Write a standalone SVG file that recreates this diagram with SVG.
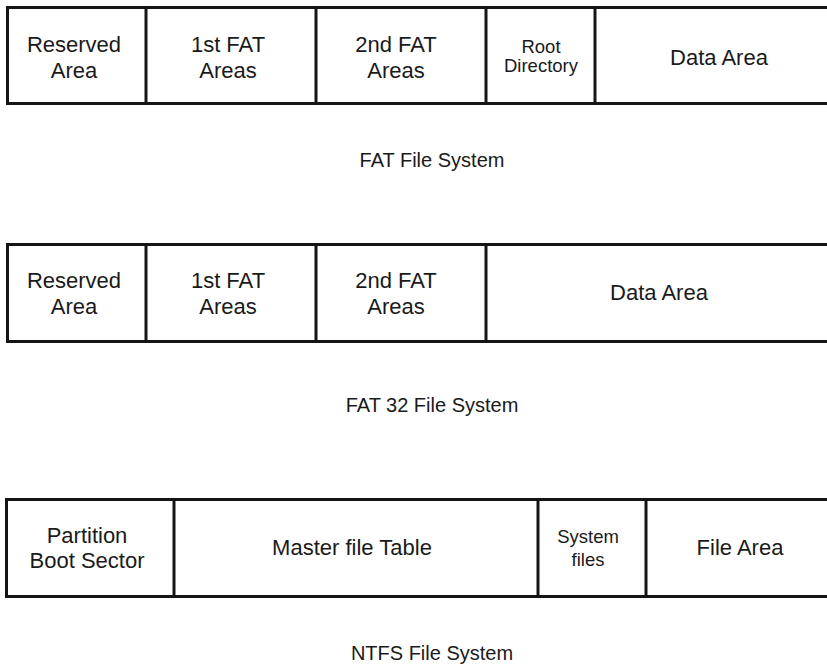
<svg xmlns="http://www.w3.org/2000/svg" width="827" height="666" viewBox="0 0 827 666">
<style>
.box{fill:#fff;stroke:#151515;stroke-width:3}
.div{stroke:#151515;stroke-width:3}
text{font-family:"Liberation Sans",Arial,Helvetica,sans-serif;fill:#1a1a1a;text-anchor:middle}
.t{font-size:22px}
.s{font-size:18.5px}
.c{font-size:20px}
</style>
<rect width="827" height="666" fill="#fff"/>
<g id="fat">
<rect class="box" x="7.5" y="7.5" width="830" height="96"/>
<g id="fat-reserved"><line class="div" x1="146" y1="7.5" x2="146" y2="103.5"/><text class="t" x="74" y="52">Reserved</text><text class="t" x="74" y="78">Area</text></g>
<g id="fat-1st"><line class="div" x1="316" y1="7.5" x2="316" y2="103.5"/><text class="t" x="228" y="52">1st FAT</text><text class="t" x="228" y="78">Areas</text></g>
<g id="fat-2nd"><line class="div" x1="486" y1="7.5" x2="486" y2="103.5"/><text class="t" x="396" y="52">2nd FAT</text><text class="t" x="396" y="78">Areas</text></g>
<g id="fat-root"><line class="div" x1="595" y1="7.5" x2="595" y2="103.5"/><text class="s" x="541" y="53">Root</text><text class="s" x="541" y="72">Directory</text></g>
<g id="fat-data"><text class="t" x="719" y="65">Data Area</text></g>
<text class="c" x="432" y="167">FAT File System</text>
</g>
<g id="fat32">
<rect class="box" x="7.5" y="244.5" width="830" height="97"/>
<g id="fat32-reserved"><line class="div" x1="146" y1="244.5" x2="146" y2="341.5"/><text class="t" x="74" y="288">Reserved</text><text class="t" x="74" y="314">Area</text></g>
<g id="fat32-1st"><line class="div" x1="316" y1="244.5" x2="316" y2="341.5"/><text class="t" x="228" y="288">1st FAT</text><text class="t" x="228" y="314">Areas</text></g>
<g id="fat32-2nd"><line class="div" x1="486" y1="244.5" x2="486" y2="341.5"/><text class="t" x="396" y="288">2nd FAT</text><text class="t" x="396" y="314">Areas</text></g>
<g id="fat32-data"><text class="t" x="659" y="300">Data Area</text></g>
<text class="c" x="432" y="412">FAT 32 File System</text>
</g>
<g id="ntfs">
<rect class="box" x="6.5" y="499.5" width="830" height="97"/>
<g id="ntfs-boot"><line class="div" x1="174" y1="499.5" x2="174" y2="596.5"/><text class="t" x="87" y="543">Partition</text><text class="t" x="87" y="568">Boot Sector</text></g>
<g id="ntfs-mft"><line class="div" x1="538" y1="499.5" x2="538" y2="596.5"/><text class="t" x="352" y="555">Master file Table</text></g>
<g id="ntfs-sys"><line class="div" x1="646" y1="499.5" x2="646" y2="596.5"/><text class="s" x="588" y="543">System</text><text class="s" x="588" y="566">files</text></g>
<g id="ntfs-file"><text class="t" x="740" y="555">File Area</text></g>
<text class="c" x="432" y="660">NTFS File System</text>
</g>
</svg>
